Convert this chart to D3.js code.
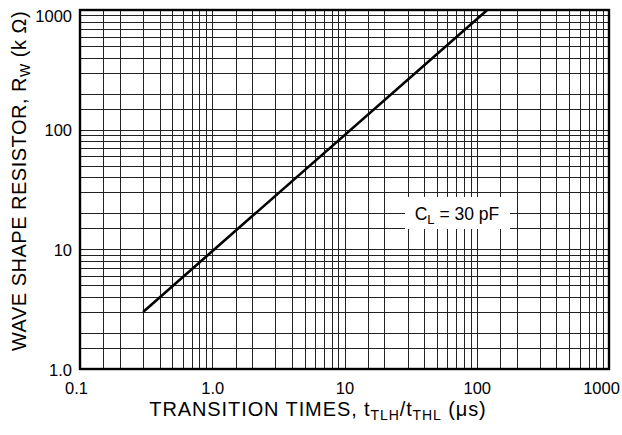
<!DOCTYPE html>
<html><head><meta charset="utf-8">
<script src="https://cdn.jsdelivr.net/npm/d3@7"></script>
<style>
html,body{margin:0;padding:0;background:#fff;}
text{font-family:"Liberation Sans",Arial,Helvetica,sans-serif;fill:#000;}
</style></head>
<body><svg id="chart" width="622" height="435"></svg>
<script>
// ---- data ----
const xTickValues = [0.1, 1, 10, 100, 1000];
const xTickLabels = ["0.1", "1.0", "10", "100", "1000"];
const yTickValues = [1, 10, 100, 1000];
const yTickLabels = ["1.0", "10", "100", "1000"];
const gridMultipliers = [1, 1.5, 2, 3, 4, 5, 6, 7, 8, 9];
const transitionTime = [0.3, 120];   // µs
const waveResistor = [3, 1000];      // kΩ
const curveLabel = "30 pF";

// ---- layout ----
const svg = d3.select("#chart");
const m = {left: 80, right: 609, top: 10, bottom: 369};
const x = d3.scaleLog().domain([0.1, 1000]).range([m.left, m.right]);
const y = d3.scaleLog().domain([1, 1000]).range([m.bottom, m.top]);

function gridValues(domain) {
  const out = [];
  for (let d = domain[0]; d < domain[1] * 0.999; d *= 10)
    gridMultipliers.forEach(k => out.push(d * k));
  out.push(domain[1]);
  return out;
}
const gx = gridValues(x.domain());
const gy = gridValues(y.domain());

const grid = svg.append("g").attr("shape-rendering", "crispEdges")
  .attr("stroke", "#222").attr("stroke-width", 1);
grid.selectAll("line.v").data(gx).join("line").attr("class", "v")
  .attr("x1", d => Math.round(x(d)) + 0.5).attr("x2", d => Math.round(x(d)) + 0.5)
  .attr("y1", m.top).attr("y2", m.bottom);
grid.selectAll("line.h").data(gy).join("line").attr("class", "h")
  .attr("y1", d => Math.round(y(d)) + 0.5).attr("y2", d => Math.round(y(d)) + 0.5)
  .attr("x1", m.left).attr("x2", m.right);

// curve
const pts = transitionTime.map((t, i) => [t, waveResistor[i]]);
svg.append("path").datum(pts)
  .attr("d", d3.line().x(d => x(d[0])).y(d => y(d[1])))
  .attr("fill", "none").attr("stroke", "#000").attr("stroke-width", 2.6);

// label box
const lb = svg.append("g");
lb.append("rect").attr("x", 405).attr("y", 197).attr("width", 105).attr("height", 32).attr("fill", "#fff");
const lt = lb.append("text").attr("x", 457).attr("y", 220).attr("text-anchor", "middle").style("font-size", "17.5px");
lt.append("tspan").text("C");
lt.append("tspan").attr("dy", 4).style("font-size", "13px").text("L");
lt.append("tspan").attr("dy", -4).text(" = " + curveLabel);

// frame
svg.append("rect").attr("x", m.left).attr("y", m.top)
  .attr("width", m.right - m.left).attr("height", m.bottom - m.top)
  .attr("fill", "none").attr("stroke", "#000").attr("stroke-width", 2.4);

// axis tick labels
const xAxis = d3.axisBottom(x).tickValues(xTickValues)
  .tickFormat((d, i) => xTickLabels[i]).tickSize(0).tickPadding(13);
const xg = svg.append("g").attr("transform", `translate(0,${m.bottom})`).call(xAxis);
xg.select(".domain").remove();
xg.selectAll("text").style("font-size", "16.5px").attr("fill", "#000")
  .attr("dx", (d, i) => i === 0 ? -4 : (i === xTickValues.length - 1 ? -8 : 0));

const yAxis = d3.axisLeft(y).tickValues(yTickValues)
  .tickFormat((d, i) => yTickLabels[i]).tickSize(0).tickPadding(8);
const yg = svg.append("g").attr("transform", `translate(${m.left},0)`).call(yAxis);
yg.select(".domain").remove();
yg.selectAll("text").style("font-size", "16.5px").attr("fill", "#000")
  .attr("transform", (d, i) => i === yTickValues.length - 1 ? "translate(0,6)" : "translate(0,1)");
svg.selectAll(".tick text").attr("font-family", null);

// axis titles
const xt = svg.append("text").attr("x", 318).attr("y", 416).attr("text-anchor", "middle")
  .style("font-size", "20px").style("letter-spacing", "0.9px");
xt.append("tspan").text("TRANSITION TIMES, t");
xt.append("tspan").attr("dy", 4).style("font-size", "14px").text("TLH");
xt.append("tspan").attr("dy", -4).text("/t");
xt.append("tspan").attr("dy", 4).style("font-size", "14px").text("THL");
xt.append("tspan").attr("dy", -4).text(" (μs)");

const yt = svg.append("text").attr("transform", "translate(26,181) rotate(-90)")
  .attr("text-anchor", "middle").style("font-size", "20px").style("letter-spacing", "0.5px");
yt.append("tspan").text("WAVE SHAPE RESISTOR, R");
yt.append("tspan").attr("dy", 4).style("font-size", "14px").text("W");
yt.append("tspan").attr("dy", -4).text(" (k Ω)");
</script></body></html>
